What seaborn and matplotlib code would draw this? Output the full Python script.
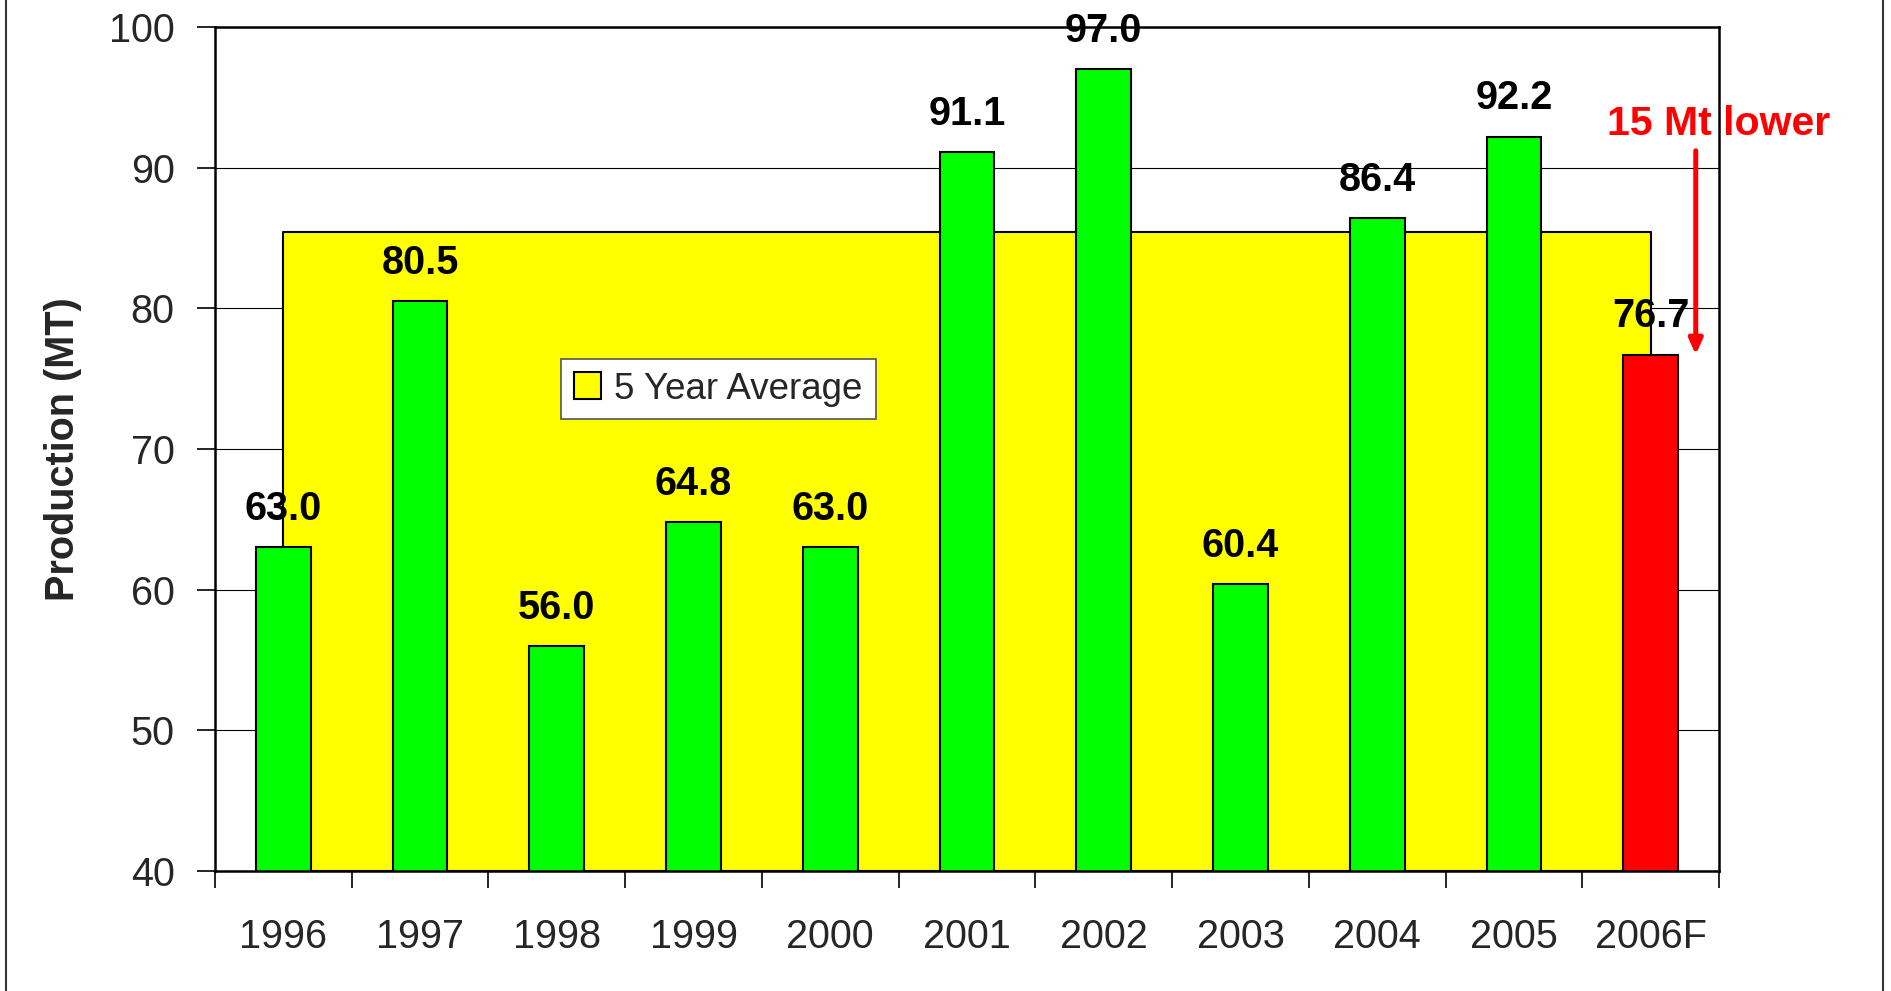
import matplotlib
matplotlib.use("Agg")
import matplotlib.pyplot as plt
import seaborn as sns
from matplotlib.patches import Patch
from matplotlib.lines import Line2D

# Production by year
years = ['1996', '1997', '1998', '1999', '2000', '2001', '2002', '2003', '2004', '2005', '2006F']
production = [63.0, 80.5, 56.0, 64.8, 63.0, 91.1, 97.0, 60.4, 86.4, 92.2, 76.7]
bar_colors = ['#00FF00'] * 10 + ['#FF0000']

# 5 year average (2001-2005) drawn as an area behind the bars
five_year_avg = [85.4, 85.4, 85.4, 85.4, 85.4, 85.4, 85.4, 85.4, 85.4, 85.4, 85.4]

sns.set_style('white')
plt.rcParams['font.family'] = ['Liberation Sans', 'DejaVu Sans']

fig = plt.figure(figsize=(18.91, 9.91), dpi=100)
ax = fig.add_axes([215/1891, 1 - 871/991, (1719-215)/1891, (871-27)/991])

#Yellow average area
xs = list(range(len(years)))
ax.fill_between(xs, 40, five_year_avg, facecolor='#FFFF00', edgecolor='black', linewidth=1.5, zorder=1)

#Bars
sns.barplot(x=years, y=production, hue=years, palette=bar_colors, legend=False,
            width=0.4, edgecolor='black', linewidth=1.5, saturation=1, ax=ax, zorder=2)

for i, v in enumerate(production):
    ax.text(i, v + 1.95, f'{v:.1f}', ha='center', va='baseline', fontsize=28.5,
            fontweight='bold', color='black', zorder=5)

ax.set_ylim(40, 100)
ax.set_xlim(-0.5, 10.5)
ax.set_yticks(range(40, 101, 10))
ax.yaxis.grid(True, color='black', linewidth=0.8)
ax.set_axisbelow(True)
for s in ax.spines.values():
    s.set_color('black')
    s.set_linewidth(1.8)

# ticks between categories, labels at centers
ax.set_xticks([i - 0.5 for i in range(12)])
ax.set_xticklabels([])
ax.set_xticks(xs, minor=True)
ax.set_xticklabels(years, minor=True)
ax.tick_params(axis='x', which='major', direction='out', length=12, width=1.2, color='black', bottom=True)
ax.tick_params(axis='x', which='minor', length=0, pad=34, labelsize=28.5, bottom=True)
ax.tick_params(axis='y', direction='out', length=13, width=1.2, color='black', pad=16, labelsize=28.5, left=True)
ax.set_xlabel('')

ax.set_ylabel('Production (MT)', fontsize=28.5, fontweight='bold', va='center')
ax.yaxis.set_label_coords(-0.101, 0.5)

#Legend
leg = ax.legend(handles=[Patch(facecolor='#FFFF00', edgecolor='black', linewidth=1.5)],
                labels=['5 Year Average'], loc='upper left', bbox_to_anchor=(0.230, 0.607),
                borderaxespad=0, fontsize=26.5, fancybox=False, framealpha=1, edgecolor='#555555',
                handlelength=0.75, handleheight=0.75, handletextpad=0.35, borderpad=0.35)
leg.get_frame().set_linewidth(1.2)
leg.set_zorder(6)

#Annotation
ax.annotate('', xy=(10.33, 76.5), xytext=(10.33, 91.4),
            arrowprops=dict(arrowstyle='-|>,head_length=0.9,head_width=0.4', color='#FF0000', lw=3.6))
ax.text(10.5, 93.1, '15 Mt lower', color='#FF0000', fontsize=29.5, fontweight='bold',
        ha='center', va='center', zorder=7)

# figure frame lines
fig.add_artist(Line2D([6/1891, 6/1891], [0, 1], color='#333333', lw=1.5))
fig.add_artist(Line2D([1883/1891, 1883/1891], [0, 1], color='#333333', lw=1.5))

plt.savefig('out.png', dpi=100)
